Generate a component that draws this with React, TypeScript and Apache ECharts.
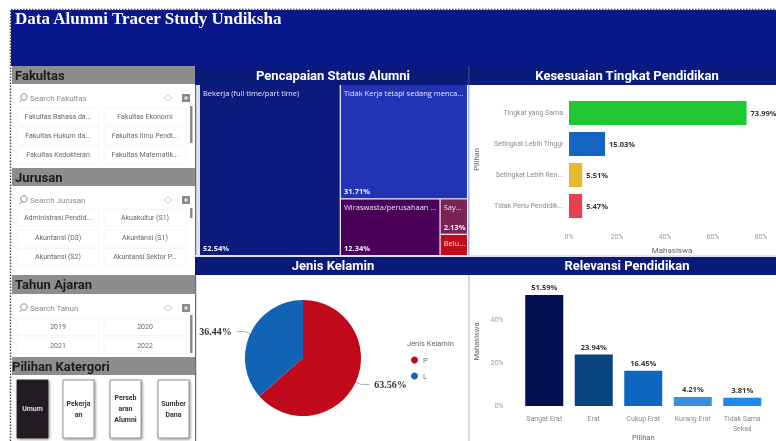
import React, { useEffect, useRef } from "react";
import * as echarts from "echarts";

const pageTitle = "Data Alumni Tracer Study Undiksha";
const fakultasChips = ["Fakultas Bahasa da...", "Fakultas Ekonomi", "Fakultas Hukum da...", "Fakultas Ilmu Pendi...", "Fakultas Kedokteran", "Fakultas Matematik..."];
const jurusanChips = ["Administrasi Pendid...", "Akuakultur (S1)", "Akuntansi (D3)", "Akuntansi (S1)", "Akuntansi (S2)", "Akuntansi Sektor P..."];
const tahunChips = ["2019", "2020", "2021", "2022"];
const pilihanButtons = ["Umum", "Pekerja\nan", "Perseb\naran\nAlumni", "Sumber\nDana"];

const statusNames = ["Bekerja (full time/part time)", "Tidak Kerja tetapi sedang menca...", "Wiraswasta/perusahaan ...", "Say...", "Belu..."];
const statusValues = [52.54, 31.71, 12.34, 2.13, 1.28];
const statusColors = ["#0b1a7c", "#2234b4", "#4a0059", "#7b2257", "#c20c1c"];

const fitNames = ["Tingkat yang Sama", "Setingkat Lebih Tinggi", "Setingkat Lebih Ren...", "Tidak Perlu Pendidik..."];
const fitValues = [73.99, 15.03, 5.51, 5.47];
const fitColors = ["#1fc832", "#1565c0", "#e4b92f", "#e8404f"];

const genderNames = ["P", "L"];
const genderValues = [63.56, 36.44];
const genderColors = ["#c00a1c", "#1163b5"];

const relevanceNames = ["Sangat Erat", "Erat", "Cukup Erat", "Kurang Erat", "Tidak Sama\nSekali"];
const relevanceValues = [51.59, 23.94, 16.45, 4.21, 3.81];
const relevanceColors = ["#03104f", "#06437f", "#0e67bf", "#3a8ee0", "#1e88ee"];

const NAVY = "#0a1a78";
const GREY = "#8d8d8d";
const UI = "Roboto";
const pct = (v: number) => v.toFixed(2) + "%";

function sectionHeader(label: string, y: number, h: number, x = 15) {
  return [
    { type: "rect", shape: { x: 12, y, width: 183, height: h }, style: { fill: GREY } },
    { type: "text", x, y: y + h / 2, style: { text: label, fill: "#1c1c1c", font: `700 13px ${UI}`, textVerticalAlign: "middle" } },
  ];
}

function searchRow(label: string, y: number) {
  return [
    { type: "circle", shape: { cx: 24, cy: y - 1, r: 3.2 }, style: { fill: "none", stroke: "#777", lineWidth: 0.9 } },
    { type: "line", shape: { x1: 22, y1: y + 1.5, x2: 19.5, y2: y + 4 }, style: { stroke: "#777", lineWidth: 0.9 } },
    { type: "text", x: 30, y, style: { text: label, fill: "#8a8a8a", font: `8px ${UI}`, textVerticalAlign: "middle" } },
    { type: "polygon", shape: { points: [[168, y - 3], [172, y], [168, y + 3], [164, y]] }, style: { fill: "none", stroke: "#c8c8c8", lineWidth: 0.8 } },
    { type: "rect", shape: { x: 182, y: y - 4, width: 8, height: 8 }, style: { fill: "#8a8a8a" } },
    { type: "rect", shape: { x: 184.5, y: y - 1.5, width: 3, height: 3 }, style: { fill: "#e5e5e5" } },
  ];
}

function chips(labels: string[], rows: number[]) {
  const out: any[] = [];
  labels.forEach((label, i) => {
    const col = i % 2;
    const y = rows[Math.floor(i / 2)];
    const cx = col === 0 ? 58 : 145;
    out.push({ type: "rect", shape: { x: cx - 41, y: y - 8.5, width: 82, height: 17 }, style: { fill: "#fff", stroke: "#f4f4f4", lineWidth: 0.8 } });
    out.push({ type: "text", x: cx, y, style: { text: label, fill: "#666", font: `7px ${UI}`, textAlign: "center", textVerticalAlign: "middle" } });
  });
  return out;
}

function buttons() {
  const xs = [17, 63, 110, 158];
  const out: any[] = [];
  pilihanButtons.forEach((label, i) => {
    const dark = i === 0;
    out.push({
      type: "rect",
      shape: { x: xs[i], y: 380, width: 31, height: 58 },
      style: { fill: dark ? "#231f20" : "#fff", stroke: dark ? "#231f20" : "#777", lineWidth: 0.8, shadowBlur: 3, shadowColor: "rgba(0,0,0,0.45)", shadowOffsetX: 1, shadowOffsetY: 1 },
    });
    out.push({
      type: "text", x: xs[i] + 15.5, y: 409,
      style: { text: label, fill: dark ? "#dcdcdc" : "#333", font: `700 7px ${UI}`, lineHeight: 11, textAlign: "center", textVerticalAlign: "middle" },
    });
  });
  return out;
}

function buildGraphics() {
  return [
    { type: "rect", shape: { x: 11, y: 10, width: 765, height: 56 }, style: { fill: "#08178c" } },
    { type: "polyline", shape: { points: [[10.5, 441], [10.5, 9.5], [776, 9.5]] }, style: { fill: "none", stroke: "#44494f", lineWidth: 1.4, lineDash: [1.5, 1.5] } },
    { type: "text", x: 15, y: 18, style: { text: pageTitle, fill: "#fff", font: `700 17px "Liberation Serif"`, textVerticalAlign: "middle" } },
    { type: "rect", shape: { x: 195, y: 66, width: 581, height: 19 }, style: { fill: NAVY } },
    { type: "rect", shape: { x: 196, y: 85, width: 4, height: 170 }, style: { fill: "#dfe3f2" } },
    { type: "rect", shape: { x: 195, y: 85, width: 1.2, height: 356 }, style: { fill: "#5a669f" } },
    { type: "rect", shape: { x: 468, y: 85, width: 1.5, height: 170 }, style: { fill: "#9fb0d8" } },
    { type: "rect", shape: { x: 468.5, y: 275, width: 1, height: 166 }, style: { fill: "#aeb4c8" } },
    { type: "rect", shape: { x: 468, y: 66, width: 1.5, height: 19 }, style: { fill: "#2c3c92" } },
    { type: "rect", shape: { x: 468, y: 257, width: 1.5, height: 18 }, style: { fill: "#2c3c92" } },
    { type: "rect", shape: { x: 195, y: 255, width: 581, height: 2 }, style: { fill: "#dfe3f2" } },
    { type: "rect", shape: { x: 195, y: 257, width: 581, height: 18 }, style: { fill: NAVY } },
    ...sectionHeader("Fakultas", 66, 18),
    ...searchRow("Search Fakultas", 98),
    ...chips(fakultasChips, [117, 136, 155]),
    { type: "rect", shape: { x: 190, y: 106, width: 2.5, height: 37 }, style: { fill: "#8a8a8a" } },
    ...sectionHeader("Jurusan", 168, 18),
    ...searchRow("Search Jurusan", 200),
    ...chips(jurusanChips, [218, 238, 257]),
    { type: "rect", shape: { x: 190, y: 208, width: 2.5, height: 10 }, style: { fill: "#8a8a8a" } },
    ...sectionHeader("Tahun Ajaran", 275, 19),
    ...searchRow("Search Tahun", 308),
    ...chips(tahunChips, [327, 346]),
    { type: "rect", shape: { x: 190, y: 315, width: 2.5, height: 38 }, style: { fill: "#8a8a8a" } },
    ...sectionHeader("Pilihan Katergori", 357, 18, 12),
    ...buttons(),
    { type: "text", x: 407, y: 343, style: { text: "Jenis Kelamin", fill: "#666", font: `7.5px ${UI}`, textVerticalAlign: "middle" } },
  ];
}

const panelTitle = (text: string, left: number, top: number) => ({
  text, left, top, textAlign: "center", padding: 0,
  textStyle: { color: "#fff", fontFamily: UI, fontWeight: 700, fontSize: 13, lineHeight: 16 },
});

const treemapBase = {
  type: "treemap", left: 200, top: 85, width: 267, height: 170,
  roam: false, nodeClick: false, silent: true,
  breadcrumb: { show: false },
  visibleMin: 0,
};

function buildOption() {
  const axisGrey = "#8a8a8a";
  return {
    animation: false,
    backgroundColor: "#fff",
    graphic: { elements: buildGraphics() },
    title: [
      panelTitle("Pencapaian Status Alumni", 333, 67),
      panelTitle("Kesesuaian Tingkat Pendidikan", 627, 67),
      panelTitle("Jenis Kelamin", 333, 257),
      panelTitle("Relevansi Pendidikan", 627, 257),
    ],
    legend: {
      data: genderNames, orient: "vertical", left: 406, top: 351, icon: "circle",
      itemWidth: 7, itemHeight: 7, itemGap: 8,
      textStyle: { color: "#666", fontSize: 7.5, fontFamily: UI },
    },
    grid: [
      { left: 569, top: 97.5, width: 192, height: 124, outerBoundsMode: "none" },
      { left: 519.5, top: 277, width: 247.5, height: 129, outerBoundsMode: "none" },
    ],
    xAxis: [
      {
        gridIndex: 0, type: "value", min: 0, max: 80, interval: 20,
        axisLine: { show: false }, axisTick: { show: false }, splitLine: { show: false },
        axisLabel: { formatter: "{value}%", color: "#999", fontSize: 7, fontFamily: UI, margin: 12 },
        name: "Mahasiswa", nameLocation: "middle", nameGap: 25,
        nameTextStyle: { color: "#666", fontSize: 8, fontFamily: UI, padding: [0, 0, 0, 14] },
      },
      {
        gridIndex: 1, type: "category", data: relevanceNames,
        axisLine: { show: false }, axisTick: { show: false },
        axisLabel: { interval: 0, color: axisGrey, fontSize: 7, fontFamily: UI, margin: 8, lineHeight: 10 },
        name: "Pilihan", nameLocation: "middle", nameGap: 27, nameMoveOverlap: false,
        nameTextStyle: { color: "#666", fontSize: 7.5, fontFamily: UI },
      },
    ],
    yAxis: [
      {
        gridIndex: 0, type: "category", inverse: true, data: fitNames,
        axisLine: { show: false }, axisTick: { show: false },
        axisLabel: { interval: 0, color: axisGrey, fontSize: 7, fontFamily: UI, margin: 6 },
        name: "Pilihan", nameLocation: "middle", nameGap: 89, nameRotate: 90,
        nameTextStyle: { color: "#666", fontSize: 7.5, fontFamily: UI },
      },
      {
        gridIndex: 1, type: "value", min: 0, max: 60, interval: 20,
        axisLine: { show: false }, axisTick: { show: false }, splitLine: { show: false },
        axisLabel: { formatter: "{value}%", color: "#999", fontSize: 7, fontFamily: UI, margin: 16, showMaxLabel: false },
        name: "Mahasiswa", nameLocation: "middle", nameGap: 39, nameRotate: 90,
        nameTextStyle: { color: "#666", fontSize: 7.5, fontFamily: UI },
      },
    ],
    series: [
      {
        ...treemapBase,
        itemStyle: { borderColor: "#c9cfea", borderWidth: 0, gapWidth: 1.2 },
        label: { show: true, position: "insideTopLeft", color: "#e4e6f5", fontSize: 7.5, fontFamily: "Open Sans", distance: 2, padding: [2, 0, 0, 1] },
        data: statusNames.map((name, i) => ({ name, value: statusValues[i], itemStyle: { color: statusColors[i] } })),
      },
      {
        ...treemapBase,
        itemStyle: { borderWidth: 0, gapWidth: 1.2 },
        label: {
          show: true, position: "insideBottomLeft", color: "#eef0fa", fontSize: 7.5, fontWeight: 700, fontFamily: "Open Sans", distance: 2, padding: [0, 0, 1, 1], overflow: "none",
          formatter: (p: any) => (p.value >= 2 ? pct(p.value) : ""),
        },
        data: statusNames.map((name, i) => ({ name, value: statusValues[i], itemStyle: { color: "rgba(0,0,0,0)" } })),
      },
      {
        type: "bar", xAxisIndex: 0, yAxisIndex: 0, barWidth: 24,
        data: fitValues.map((value, i) => ({ value, itemStyle: { color: fitColors[i] } })),
        label: { show: true, position: "right", distance: 4, color: "#333", fontSize: 7.5, fontWeight: 700, fontFamily: "Open Sans", formatter: (p: any) => pct(p.value) },
      },
      {
        type: "bar", xAxisIndex: 1, yAxisIndex: 1, barWidth: 38,
        data: relevanceValues.map((value, i) => ({ value, itemStyle: { color: relevanceColors[i] } })),
        label: { show: true, position: "top", distance: 4, color: "#333", fontSize: 7.5, fontWeight: 700, fontFamily: "Open Sans", formatter: (p: any) => pct(p.value) },
      },
      {
        type: "pie", center: [303, 358], radius: 58, startAngle: 90, clockwise: true,
        data: genderNames.map((name, i) => ({ name, value: genderValues[i], itemStyle: { color: genderColors[i] } })),
        label: { show: true, color: "#333", fontSize: 10, fontWeight: 700, fontFamily: "Liberation Serif", formatter: (p: any) => pct(p.value) },
        labelLine: { show: true, length: 6, length2: 8, lineStyle: { color: "#999", width: 0.8 } },
      },
    ],
  };
}

export default function App() {
  const ref = useRef<HTMLDivElement>(null);
  useEffect(() => {
    document.body.style.margin = "0";
    const chart = echarts.init(ref.current!, undefined, { renderer: "svg" });
    chart.setOption(buildOption() as any);
    return () => chart.dispose();
  }, []);
  return <div ref={ref} style={{ width: 776, height: 441, filter: "blur(0.35px)" }} />;
}
